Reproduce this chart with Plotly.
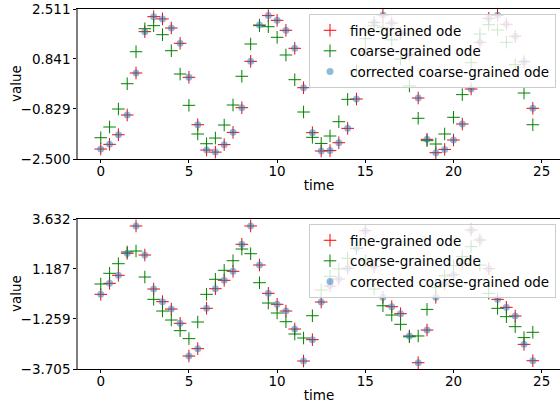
import plotly.graph_objects as go

# ---------------- data ----------------
time = [i * 0.5 for i in range(50)]

fine_top = [-2.167, -2.01, -1.69, -1.03, 0.373, 1.754, 2.255, 2.18, 1.876, 1.365,
            0.229, -1.355, -2.2, -2.27, -2.02, -1.61, -0.786, 0.763, 1.976, 2.29,
            2.133, 1.8, 1.198, -0.118, -1.62, -2.233, -2.22, -1.956, -1.476, -0.496,
            1.084, 2.06, 2.31, 2.04, 1.7, 0.98, -0.463, -1.843, -2.29, -2.18,
            -1.866, -1.331, -0.162, 1.398, 2.2, 2.3, 2.0, 1.6, 0.75, -0.807]
coarse_top = [-1.789, -1.431, -0.83, 0.015, 1.084, 1.853, 1.954, 1.653, 1.118, 0.339,
              -0.707, -1.665, -1.99, -1.8, -1.365, -0.697, 0.263, 1.342, 1.954, 1.92,
              1.565, 0.974, 0.149, -0.93, -1.776, -1.98, -1.732, -1.254, -0.507, 0.45,
              1.52, 1.95, 1.9, 1.48, 0.84, -0.06, -1.14, -1.888, -1.999, -1.665,
              -1.107, -0.35, 0.717, 1.676, 1.987, 1.81, 1.4, 0.65, -0.295, -1.355]
corrected_top = list(fine_top)

fine_bot = [-0.053, 0.485, 0.877, 1.954, 3.29, 1.871, 0.207, -0.413, -0.771, -1.47,
            -3.07, -2.71, -0.737, 0.222, 0.633, 1.073, 2.394, 3.29, 1.382, -0.003,
            -0.541, -0.869, -1.75, -3.315, -2.27, -0.429, 0.354, 0.697, 1.22, 2.2,
            3.06, 1.3, -0.2, -0.658, -1.0, -2.09, -3.398, -1.8, -0.2, 0.452,
            0.9, 1.464, 3.094, 2.605, 1.2, -0.297, -0.69, -1.113, -2.5, -3.3]
coarse_bot = [0.452, 0.975, 1.445, 2.018, 2.067, 0.794, -0.297, -0.869, -1.309, -1.83,
              -2.22, -1.407, -0.053, 0.682, 1.122, 1.592, 2.164, 1.934, 0.516, -0.478,
              -0.967, -1.392, -1.994, -2.19, -1.1, 0.158, 0.83, 1.19, 1.71, 2.2,
              1.6, 0.207, -0.61, -1.065, -1.52, -2.13, -2.09, -0.79, 0.29, 0.85,
              1.35, 1.8, 2.277, 1.382, -0.003, -0.737, -1.146, -1.635, -2.17, -1.91]
corrected_bot = list(fine_bot)

ytick_top = [2.511, 0.841, -0.829, -2.500]
ytext_top = ["2.511", "0.841", "\u22120.829", "\u22122.500"]
ytick_bot = [3.632, 1.187, -1.259, -3.705]
ytext_bot = ["3.632", "1.187", "\u22121.259", "\u22123.705"]
xticks = [0, 5, 10, 15, 20, 25]

series_names = ["fine-grained ode", "coarse-grained ode", "corrected coarse-grained ode"]

# ---------------- figure ----------------
FONT = "DejaVu Sans"
fig = go.Figure()

def add_panel(xa, ya, leg, fine, coarse, corr):
    fig.add_trace(go.Scatter(x=time, y=fine, mode="markers", name=series_names[0],
                             xaxis=xa, yaxis=ya, legend=leg,
                             marker=dict(symbol="cross-thin", size=9, color="red",
                                         line=dict(color="red", width=1))))
    fig.add_trace(go.Scatter(x=time, y=coarse, mode="markers", name=series_names[1],
                             xaxis=xa, yaxis=ya, legend=leg,
                             marker=dict(symbol="cross-thin", size=9, color="green",
                                         line=dict(color="green", width=1))))
    fig.add_trace(go.Scatter(x=time, y=corr, mode="markers", name=series_names[2],
                             xaxis=xa, yaxis=ya, legend=leg,
                             marker=dict(symbol="circle", size=7, color="#1f77b4",
                                         opacity=0.5, line=dict(width=0))))

add_panel("x", "y", "legend", fine_top, coarse_top, corrected_top)
add_panel("x2", "y2", "legend2", fine_bot, coarse_bot, corrected_bot)

xrange = [-1.29, 26.04]
axis_font = dict(family=FONT, size=13.5, color="black")

def xaxis_cfg(anchor):
    return dict(range=xrange, anchor=anchor, tickvals=xticks, ticks="outside",
                ticklen=3, tickcolor="black", showgrid=False, zeroline=False,
                showline=True, linecolor="black", linewidth=1, mirror=True,
                ticklabelstandoff=-3,
                tickfont=axis_font, title=dict(text="time", font=axis_font, standoff=2))

def yaxis_cfg(anchor, domain, rng, tv, tt):
    return dict(range=rng, domain=domain, anchor=anchor, tickmode="array",
                tickvals=tv, ticktext=tt, ticks="outside", ticklen=3,
                tickcolor="black", showgrid=False, zeroline=False,
                showline=True, linecolor="#808080", linewidth=1.5, mirror=False,
                tickfont=axis_font)

H = 360.0
dom_top = [(369 - 159) / H, 1.0]
dom_bot = [0.0, 150 / H]

legend_common = dict(bgcolor="rgba(255,255,255,0.8)", bordercolor="#cccccc",
                     borderwidth=1, font=dict(family=FONT, size=13.5, color="black"),
                     xanchor="right", yanchor="top", x=(556 - 78) / 482.0,
                     itemsizing="trace", tracegroupgap=0)

ytitle_x = (16 - 78) / 482.0
annotations = [
    dict(text="value", xref="paper", yref="paper", x=ytitle_x, y=(369 - 84) / H,
         xanchor="center", yanchor="middle", textangle=-90, showarrow=False, font=axis_font),
    dict(text="value", xref="paper", yref="paper", x=ytitle_x, y=(369 - 294) / H,
         xanchor="center", yanchor="middle", textangle=-90, showarrow=False, font=axis_font),
]

fig.update_layout(
    width=560, height=404,
    margin=dict(l=78, r=0, t=9, b=35),
    paper_bgcolor="white", plot_bgcolor="white",
    font=dict(family=FONT, size=13.5, color="black"),
    xaxis=xaxis_cfg("y"),
    yaxis=yaxis_cfg("x", dom_top, [-2.500, 2.511], ytick_top, ytext_top),
    xaxis2=xaxis_cfg("y2"),
    yaxis2=yaxis_cfg("x2", dom_bot, [-3.705, 3.632], ytick_bot, ytext_bot),
    legend=dict(**legend_common, y=(369 - 14) / H),
    legend2=dict(**legend_common, y=(369 - 224) / H),
    annotations=annotations,
    showlegend=True,
)

fig.write_html("out.html")
